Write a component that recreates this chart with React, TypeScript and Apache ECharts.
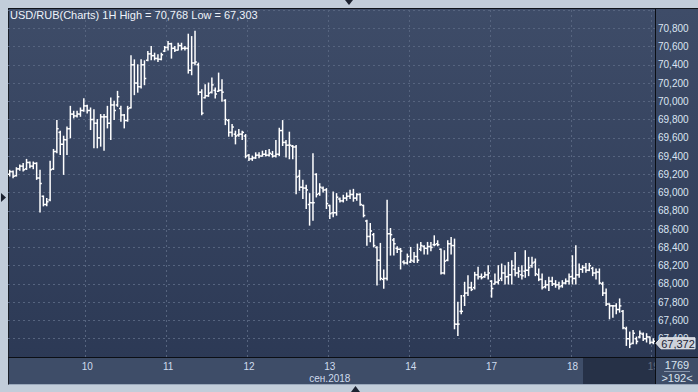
import React, { useEffect, useRef } from "react";
import * as echarts from "echarts";

// ---- data ----
const symbolTitle = "USD/RUB(Charts) 1H";
const dayLabels = ["9", "10", "11", "12", "13", "14", "17", "18", "19"];
const dayFirstHour = [1, 0, 0, 0, 0, 0, 0, 0, 0];
const monthLabel = "сен.2018";
const monthLabelDay = "13";
const highValue = 70.768;
const lowValue = 67.303;
const barCountLabel = "1769";
const visibleBarsLabel = ">192<";
const yMin = 67.2;
const yMax = 71.0;
const yStep = 0.2;

// rows: [open, high, low, close]
const day09 = [
  [69.2, 69.244, 69.182, 69.23], [69.23, 69.236, 69.164, 69.18], [69.185, 69.273, 69.182, 69.26],
  [69.26, 69.302, 69.244, 69.29], [69.29, 69.32, 69.236, 69.25], [69.26, 69.364, 69.254, 69.33],
  [69.33, 69.335, 69.273, 69.29], [69.29, 69.335, 69.262, 69.32], [69.32, 69.327, 69.145, 69.16],
  [69.16, 69.244, 68.789, 69.1], [68.96, 68.963, 68.855, 68.87], [68.87, 68.935, 68.855, 68.9],
  [68.92, 69.345, 68.91, 69.25], [69.26, 69.473, 69.254, 69.45], [69.45, 69.789, 69.436, 69.7],
  [69.66, 69.673, 69.418, 69.53], [69.53, 69.618, 69.2, 69.58], [69.58, 69.72, 69.418, 69.7],
  [69.7, 69.945, 69.6, 69.86], [69.86, 69.891, 69.818, 69.84], [69.84, 69.891, 69.829, 69.86],
  [69.86, 69.927, 69.836, 69.9], [69.9, 70.029, 69.891, 69.95],
];
const day10 = [
  [69.95, 69.956, 69.873, 69.9], [69.9, 69.927, 69.691, 69.8], [69.8, 69.909, 69.491, 69.76],
  [69.76, 69.8, 69.491, 69.6], [69.6, 69.855, 69.509, 69.83], [69.83, 69.855, 69.465, 69.83],
  [69.83, 69.945, 69.709, 69.76], [69.76, 70.036, 69.582, 69.96], [69.96, 70.0, 69.8, 69.9],
  [69.96, 70.109, 69.945, 70.05], [69.92, 69.945, 69.782, 69.85], [69.85, 69.855, 69.709, 69.79],
  [69.79, 69.945, 69.782, 69.92], [69.93, 70.498, 69.927, 70.4], [70.4, 70.454, 70.073, 70.2],
  [70.2, 70.4, 70.1, 70.16], [70.16, 70.454, 70.145, 70.4], [70.4, 70.443, 70.182, 70.25],
  [70.45, 70.545, 70.443, 70.52], [70.52, 70.6, 70.454, 70.5], [70.5, 70.527, 70.454, 70.47],
  [70.47, 70.509, 70.436, 70.46], [70.46, 70.527, 70.454, 70.51], [70.55, 70.6, 70.545, 70.59],
];
const day11 = [
  [70.59, 70.654, 70.563, 70.63], [70.63, 70.636, 70.473, 70.58], [70.58, 70.6, 70.545, 70.56],
  [70.56, 70.636, 70.563, 70.61], [70.61, 70.636, 70.563, 70.58], [70.58, 70.6, 70.563, 70.58],
  [70.58, 70.735, 70.309, 70.34], [70.34, 70.709, 70.291, 70.42], [70.42, 70.768, 70.4, 70.43],
  [70.4, 70.418, 70.073, 70.1], [70.1, 70.127, 69.854, 69.87], [70.04, 70.182, 70.036, 70.06],
  [70.06, 70.2, 70.054, 70.09], [70.1, 70.254, 70.091, 70.18], [70.12, 70.145, 70.036, 70.08],
  [70.11, 70.309, 70.109, 70.12], [70.12, 70.236, 70.0, 70.1], [70.01, 70.018, 69.745, 69.8],
  [69.79, 69.8, 69.618, 69.66], [69.66, 69.745, 69.618, 69.72], [69.64, 69.673, 69.534, 69.62],
  [69.63, 69.691, 69.618, 69.64], [69.64, 69.673, 69.582, 69.66], [69.62, 69.636, 69.382, 69.4],
];
const day12 = [
  [69.41, 69.418, 69.353, 69.37], [69.37, 69.4, 69.353, 69.38], [69.38, 69.436, 69.375, 69.41],
  [69.41, 69.436, 69.382, 69.4], [69.4, 69.454, 69.4, 69.42], [69.42, 69.462, 69.4, 69.41],
  [69.41, 69.473, 69.4, 69.43], [69.42, 69.451, 69.389, 69.4], [69.4, 69.571, 69.389, 69.42],
  [69.42, 69.705, 69.407, 69.68], [69.68, 69.789, 69.516, 69.55], [69.55, 69.571, 69.389, 69.52],
  [69.52, 69.662, 69.371, 69.52], [69.51, 69.516, 69.371, 69.5], [69.5, 69.516, 68.989, 69.17],
  [69.18, 69.244, 69.025, 69.06], [69.06, 69.135, 68.935, 69.05], [69.05, 69.08, 68.826, 69.03],
  [68.87, 68.989, 68.644, 68.89], [68.89, 69.425, 68.698, 68.89], [69.2, 69.207, 68.953, 68.98],
  [68.99, 69.098, 68.971, 69.06], [69.05, 69.062, 69.007, 69.03], [69.03, 69.044, 68.826, 68.88],
];
const day13 = [
  [68.86, 68.862, 68.716, 68.77], [68.78, 69.007, 68.735, 68.78], [68.78, 68.989, 68.753, 68.95],
  [68.93, 68.942, 68.898, 68.91], [68.91, 68.971, 68.898, 68.94], [68.94, 68.996, 68.916, 68.96],
  [68.96, 69.025, 68.935, 68.98], [68.98, 69.036, 68.906, 68.94], [68.94, 68.989, 68.916, 68.98],
  [68.98, 68.989, 68.862, 68.87], [68.86, 68.862, 68.735, 68.75], [68.69, 68.698, 68.425, 68.52],
  [68.52, 68.662, 68.462, 68.58], [68.54, 68.553, 68.407, 68.42], [68.4, 68.407, 67.989, 68.26],
  [68.26, 68.444, 68.044, 68.06], [68.05, 68.153, 67.953, 68.06], [68.06, 68.916, 68.044, 68.55],
  [68.55, 68.607, 68.316, 68.54], [68.48, 68.498, 68.316, 68.44], [68.39, 68.407, 68.345, 68.38],
  [68.38, 68.389, 68.164, 68.36], [68.24, 68.255, 68.218, 68.23], [68.23, 68.327, 68.218, 68.3],
];
const day14 = [
  [68.24, 68.4, 68.236, 68.26], [68.25, 68.345, 68.236, 68.3], [68.3, 68.436, 68.236, 68.26],
  [68.38, 68.455, 68.364, 68.42], [68.41, 68.418, 68.327, 68.39], [68.39, 68.455, 68.327, 68.41],
  [68.41, 68.455, 68.364, 68.4], [68.43, 68.527, 68.418, 68.43], [68.44, 68.473, 68.418, 68.43],
  [68.38, 68.382, 68.109, 68.12], [68.12, 68.364, 68.109, 68.25], [68.26, 68.473, 68.255, 68.44],
  [68.44, 68.509, 68.327, 68.42], [68.42, 68.491, 67.509, 67.56], [67.56, 67.8, 67.436, 67.56],
  [67.7, 67.873, 67.673, 67.7], [67.87, 68.018, 67.764, 67.9], [67.9, 68.091, 67.873, 67.96],
  [67.96, 68.018, 67.927, 67.94], [67.96, 68.127, 67.945, 68.1], [68.1, 68.182, 68.055, 68.08],
  [68.08, 68.109, 68.055, 68.07], [68.08, 68.127, 68.073, 68.1], [68.1, 68.2, 68.055, 68.12],
];
const day17 = [
  [68.03, 68.036, 67.855, 67.95], [68.0, 68.109, 68.0, 68.02], [68.02, 68.2, 68.0, 68.04],
  [68.06, 68.218, 68.036, 68.12], [68.12, 68.2, 68.0, 68.08], [68.08, 68.236, 68.0, 68.1],
  [68.1, 68.255, 68.0, 68.2], [68.16, 68.345, 68.091, 68.12], [68.12, 68.182, 68.073, 68.14],
  [68.1, 68.2, 68.055, 68.09], [68.14, 68.364, 68.073, 68.15], [68.15, 68.291, 68.091, 68.18],
  [68.2, 68.291, 68.182, 68.23], [68.24, 68.273, 68.091, 68.11], [68.1, 68.164, 68.036, 68.05],
  [68.05, 68.109, 67.945, 67.96], [67.97, 68.036, 67.956, 67.99], [67.99, 68.073, 67.927, 68.03],
  [68.03, 68.073, 67.982, 68.0], [68.0, 68.036, 67.964, 67.99], [67.99, 68.018, 67.945, 67.97],
  [67.98, 68.036, 67.964, 68.01], [68.01, 68.055, 68.0, 68.03], [68.03, 68.109, 68.0, 68.08],
];
const day18 = [
  [68.08, 68.309, 68.0, 68.06], [68.06, 68.418, 68.0, 68.1], [68.1, 68.218, 68.073, 68.16],
  [68.16, 68.2, 68.127, 68.18], [68.18, 68.225, 68.127, 68.15], [68.15, 68.225, 68.145, 68.2],
  [68.17, 68.182, 68.091, 68.12], [68.12, 68.164, 68.055, 68.13], [68.13, 68.164, 68.0, 68.01],
  [68.0, 68.018, 67.873, 67.9], [67.9, 67.945, 67.764, 67.78], [67.78, 67.782, 67.618, 67.76],
  [67.76, 67.764, 67.636, 67.76], [67.76, 67.782, 67.673, 67.72], [67.72, 67.836, 67.691, 67.76],
  [67.7, 67.709, 67.509, 67.52], [67.51, 67.527, 67.327, 67.4], [67.4, 67.473, 67.303, 67.34],
  [67.35, 67.491, 67.345, 67.46], [67.4, 67.418, 67.345, 67.37], [67.42, 67.484, 67.411, 67.46],
  [67.45, 67.462, 67.382, 67.4], [67.4, 67.455, 67.364, 67.42], [67.42, 67.418, 67.345, 67.36],
];
const day19 = [[67.36, 67.4, 67.345, 67.372]];
const dayRows = [day09, day10, day11, day12, day13, day14, day17, day18, day19];

// ---- derived for the library ----
const fmt = (v: number) => v.toFixed(3).replace(".", ",");
const categories: string[] = [];
const ohlcData: number[][] = [];
const dayStartIdx = new Set<number>();
dayRows.forEach((rows, d) => {
  rows.forEach((r, k) => {
    const idx = categories.length;
    if (k === 0 && idx > 0) dayStartIdx.add(idx);
    const hh = String(dayFirstHour[d] + k).padStart(2, "0");
    categories.push(`${dayLabels[d]} ${hh}:00`);
    ohlcData.push([idx, r[0], r[1], r[2], r[3]]);
  });
});
const lastRow = ohlcData[ohlcData.length - 1];
const lastClose = lastRow[4];

const FONT = "'Liberation Sans', Arial, sans-serif";
const GRID = "#56647f";

export default function App() {
  const ref = useRef<HTMLDivElement>(null);
  useEffect(() => {
    if (!ref.current) return;
    const chart = echarts.init(ref.current, null, { renderer: "svg" });
    const baseGraphic: any[] = [
      { id: "sel", type: "rect", z: 40, shape: { x: 583, y: 358, width: 72, height: 26 }, style: { fill: "rgba(24,32,50,0.6)" } },
      { id: "cell", type: "rect", z: 45, shape: { x: 656, y: 358, width: 42, height: 26 }, style: { fill: "#3e4d68" } },
      { id: "hline", type: "line", z: 50, shape: { x1: 8, y1: 357.5, x2: 698, y2: 357.5 }, style: { stroke: "#0b0e14", lineWidth: 1 } },
      { id: "vline", type: "line", z: 50, shape: { x1: 655.5, y1: 9, x2: 655.5, y2: 384 }, style: { stroke: "#0b0e14", lineWidth: 1 } },
      { id: "cnt", type: "text", z: 55, x: 677, y: 365, style: { text: barCountLabel, fill: "#d9e3ef", fontSize: 11, fontFamily: FONT, textAlign: "center", textVerticalAlign: "middle" } },
      { id: "sep", type: "line", z: 55, shape: { x1: 664, y1: 371.5, x2: 690, y2: 371.5 }, style: { stroke: "#8593aa", lineWidth: 1 } },
      { id: "vis", type: "text", z: 55, x: 677, y: 378, style: { text: visibleBarsLabel, fill: "#d9e3ef", fontSize: 11, fontFamily: FONT, textAlign: "center", textVerticalAlign: "middle" } },
      { id: "t1", type: "polygon", z: 60, shape: { points: [[345, 0], [353, 0], [349, 5]] }, style: { fill: "#1c2230" } },
      { id: "t2", type: "polygon", z: 60, shape: { points: [[1, 193], [1, 202], [6, 197.5]] }, style: { fill: "#1c2230" } },
      { id: "t3", type: "polygon", z: 60, shape: { points: [[351, 392], [360, 392], [355.5, 386]] }, style: { fill: "#1c2230" } },
    ];
    const option: any = {
      animation: false,
      backgroundColor: "transparent",
      title: {
        text: `${symbolTitle} High = ${fmt(highValue)} Low = ${fmt(lowValue)}`,
        left: 10,
        top: 9,
        padding: 0,
        textStyle: { color: "#eef3fa", fontSize: 11, fontWeight: "normal", fontFamily: FONT },
      },
      grid: { left: 8, right: 43, top: 10, bottom: 35, containLabel: false },
      xAxis: {
        type: "category",
        data: categories,
        boundaryGap: true,
        axisLine: { show: false },
        axisTick: { show: false },
        axisLabel: {
          interval: (i: number) => dayStartIdx.has(i),
          formatter: (v: string) => {
            const d = v.split(" ")[0];
            return d === monthLabelDay ? `${d}\n${monthLabel}` : d;
          },
          color: "#cfdcee",
          fontSize: 10,
          lineHeight: 12,
          margin: 3,
          fontFamily: FONT,
        },
        splitLine: {
          show: true,
          interval: (i: number) => dayStartIdx.has(i),
          lineStyle: { color: GRID, type: [2, 3], width: 1 },
        },
      },
      yAxis: {
        type: "value",
        position: "right",
        min: yMin,
        max: yMax,
        interval: yStep,
        axisLine: { show: false },
        axisTick: { show: false },
        axisLabel: {
          showMinLabel: false,
          showMaxLabel: false,
          formatter: (v: number) => fmt(v),
          color: "#dbe5f2",
          fontSize: 10,
          margin: 3,
          fontFamily: FONT,
        },
        splitLine: { lineStyle: { color: GRID, type: [2, 3], width: 1 } },
      },
      series: [
        {
          type: "custom",
          data: ohlcData,
          encode: { x: 0, y: [1, 2, 3, 4] },
          clip: true,
          renderItem: (params: any, api: any) => {
            const i = api.value(0);
            const o = api.coord([i, api.value(1)]);
            const h = api.coord([i, api.value(2)]);
            const l = api.coord([i, api.value(3)]);
            const c = api.coord([i, api.value(4)]);
            const x = o[0];
            const t = 1.8;
            const style = { stroke: "#ffffff", lineWidth: 1.5 };
            return {
              type: "group",
              children: [
                { type: "line", shape: { x1: x, y1: h[1] - 0.5, x2: x, y2: l[1] + 0.5 }, style },
                { type: "line", shape: { x1: x - t, y1: o[1], x2: x, y2: o[1] }, style },
                { type: "line", shape: { x1: x, y1: c[1], x2: x + t, y2: c[1] }, style },
              ],
            };
          },
        },
      ],
      graphic: baseGraphic,
    };
    chart.setOption(option);

    // last-price tag placed through the y axis scale
    const cy = chart.convertToPixel({ yAxisIndex: 0 }, lastClose) as number;
    const ty = cy + 2;
    chart.setOption({
      graphic: [
        ...baseGraphic,
        {
          id: "tagShape",
          type: "polygon",
          z: 70,
          shape: { points: [[656, ty], [661, ty - 5.5], [695, ty - 5.5], [695, ty + 5.5], [661, ty + 5.5]] },
          style: { fill: "#cdd1d9", stroke: "#eceef2", lineWidth: 1 },
        },
        {
          id: "tagText",
          type: "text",
          z: 71,
          x: 678,
          y: ty + 0.5,
          style: { text: fmt(lastClose), fill: "#1a2234", fontSize: 11, fontFamily: FONT, textAlign: "center", textVerticalAlign: "middle" },
        },
      ],
    });
    return () => chart.dispose();
  }, []);

  return (
    <div style={{ position: "fixed", left: 0, top: 0, width: 698, height: 392, background: "#c2cdda", overflow: "hidden" }}>
      <div
        style={{
          position: "absolute",
          left: 8,
          top: 8,
          width: 690,
          height: 377,
          boxSizing: "border-box",
          background: "linear-gradient(180deg, #3e4c68 0%, #2b3854 100%)",
          borderTop: "1px solid #10141b",
          borderLeft: "1px solid #1a1f28",
          borderBottom: "1px solid #9aa8bb",
        }}
      />
      <div style={{ position: "absolute", left: 9, top: 358, width: 689, height: 26, background: "#3e4d68" }} />
      <div ref={ref} style={{ position: "absolute", left: 0, top: 0, width: 698, height: 392 }} />
    </div>
  );
}
